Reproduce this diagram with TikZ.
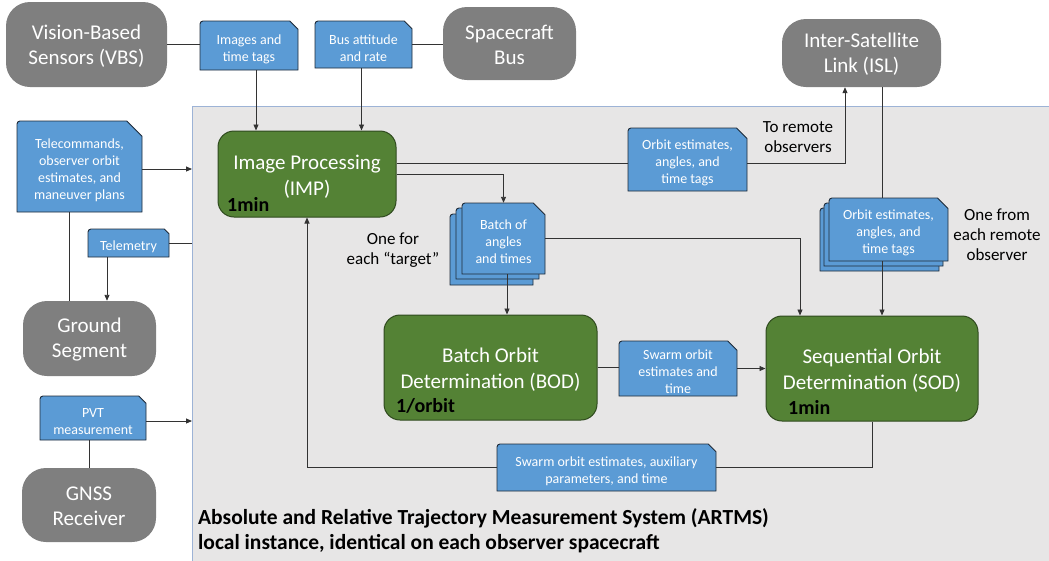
\documentclass[tikz,border=0pt]{standalone}
\usepackage{fontspec}
\setmainfont{Carlito}
\usetikzlibrary{arrows.meta,calc}
\definecolor{panelfill}{HTML}{E7E6E6}
\definecolor{panelline}{HTML}{9DB3D6}
\definecolor{nodegray}{HTML}{7F7F7F}
\definecolor{nodegreen}{HTML}{548235}
\definecolor{greenline}{HTML}{2F4A1E}
\definecolor{nodeblue}{HTML}{5B9BD5}
\definecolor{blueline}{HTML}{1E2A38}
\definecolor{wirecol}{HTML}{333333}
\tikzset{
 lbl/.style={inner sep=0pt, align=center, text=white},
 graybox/.style={rectangle, rounded corners=24pt, fill=nodegray, inner sep=0pt},
 greenbox/.style={rectangle, rounded corners=16pt, fill=nodegreen, draw=greenline, line width=1pt, inner sep=0pt},
 bluebox/.style={rectangle, inner sep=0pt},
 gtxt/.style={label={[lbl, yshift=-1.5pt, font=\fontsize{21}{25}\selectfont]center:{#1}}},
 ntxt/.style={label={[lbl, yshift=-2.5pt, font=\fontsize{21}{26}\selectfont]center:{#1}}},
 btxt/.style={label={[lbl, yshift=-3.5pt, font=\fontsize{14}{17}\selectfont]center:{#1}}},
 snipfill/.style={fill=nodeblue, draw=blueline, line width=0.9pt},
 rate/.style={anchor=west, inner sep=0pt, font=\bfseries\fontsize{20}{24}\selectfont},
 note/.style={align=center, inner sep=0pt, font=\fontsize{17}{20}\selectfont},
 wire/.style={draw=wirecol, line width=0.9pt},
 arr/.style={wire, -{Triangle[length=6pt,width=5pt]}},
}
\newcommand{\snipshape}[4]{%
  \pgfmathsetmacro{\snipc}{min(#3-#1,#4-#2)/6}%
  \filldraw[snipfill] (#1,{(#2+#4)/2}) -- (#1,#4) -- (#3,#4) -- (#3,{#2+\snipc}) -- ({#3-\snipc},#2) [rounded corners=3pt] -- (#1,#2) -- (#1,{(#2+#4)/2}) [sharp corners] -- cycle;}
\newcommand{\snipnode}[6]{%
  \snipshape{#2}{#3}{#4}{#5}%
  \node[bluebox, minimum width={#4-#2}, minimum height={#5-#3}, btxt={#6}] (#1) at ({(#2+#4)/2},{(#3+#5)/2}) {};}
\begin{document}
\begin{tikzpicture}[x=1pt,y=-1pt]
\useasboundingbox (0,0) rectangle (1049,560);
% panel
\node[fill=panelfill, minimum width=870, minimum height=470, anchor=north west, inner sep=0pt] (panel) at (192,106) {};
\draw[panelline, line width=1pt] (panel.south west) -- (panel.north west) -- (panel.north east);

% gray external nodes
\node[graybox, minimum width=161, minimum height=85, gtxt={Vision-Based\\Sensors (VBS)}] (vbs) at (86.5,44.5) {};
\node[graybox, minimum width=133, minimum height=73, gtxt={Spacecraft\\Bus}] (scbus) at (509.5,43.5) {};
\node[graybox, minimum width=159, minimum height=68, gtxt={Inter-Satellite\\Link (ISL)}] (isl) at (861.5,53) {};
\node[graybox, minimum width=133, minimum height=75, gtxt={Ground\\Segment}] (ground) at (89.5,338.5) {};
\node[graybox, minimum width=134, minimum height=74, gtxt={GNSS\\Receiver}] (gnss) at (89,505) {};

% green processing nodes
\node[greenbox, minimum width=178, minimum height=86, ntxt={Image Processing\\(IMP)}] (imp) at (307,174) {};
\node[greenbox, minimum width=213, minimum height=105, ntxt={Batch Orbit\\Determination (BOD)}] (bod) at (490.5,367.5) {};
\node[greenbox, minimum width=212, minimum height=105, ntxt={Sequential Orbit\\Determination (SOD)}] (sod) at (872,368.5) {};
\node[rate] (imprate) at (227,204) {1min};
\node[rate] (bodrate) at (396,406) {1/orbit};
\node[rate] (sodrate) at (788,407) {1min};

% blue data boxes
\snipnode{imgs}{200}{21}{298}{70}{Images and\\time tags}
\snipnode{busatt}{315}{21}{412}{68}{Bus attitude\\and rate}
\snipnode{tele}{17}{121}{142}{212}{Telecommands,\\observer orbit\\estimates, and\\maneuver plans}
\snipnode{telem}{88}{229}{169}{257}{Telemetry}
\snipnode{pvt}{40}{396}{146}{440}{PVT\\measurement}
\snipnode{orbout}{628}{128}{747}{191}{Orbit estimates,\\angles, and\\time tags}
\snipshape{820}{208}{939}{271}
\snipshape{824}{203}{943}{266}
\snipnode{orbin}{829}{198}{948}{261}{Orbit estimates,\\angles, and\\time tags}
\snipshape{450}{214}{533}{285}
\snipshape{456}{208}{539}{279}
\snipnode{batch}{462}{203}{545}{274}{Batch of\\angles\\and times}
\snipnode{swarmmid}{619}{341}{737}{396}{Swarm orbit\\estimates and\\time}
\snipnode{swarmbot}{497}{444}{716}{491}{Swarm orbit estimates, auxiliary\\parameters, and time}

% notes
\node[note] (onefor) at (393,250) {One for\\each “target”};
\node[note] (toremote) at (798,137.5) {To remote\\observers};
\node[note] (onefrom) at (997,235) {One from\\each remote\\observer};
\node[anchor=west, align=left, inner sep=0pt, font=\bfseries\fontsize{21.5}{25}\selectfont] (title) at (198,531) {Absolute and Relative Trajectory Measurement System (ARTMS)\\local instance, identical on each observer spacecraft};

% connectors
\draw[wire] (vbs.east) -- (vbs.east -| imgs.west);
\draw[arr] ([xshift=7pt]imgs.south) -- ([xshift=7pt]imgs.south |- imp.north);
\draw[arr] ([xshift=-2pt]busatt.south) -- ([xshift=-2pt]busatt.south |- imp.north);
\draw[wire] (busatt.east) -- (busatt.east -| scbus.west);
\draw[arr] ([yshift=-2.5pt]tele.east) -- ([yshift=-2.5pt]tele.east -| panel.west);
\draw[wire] ([xshift=-10.5pt]tele.south) -- ([xshift=-10.5pt]tele.south |- ground.north);
\draw[wire] (telem.east -| panel.west) -- (telem.east);
\draw[arr] ([xshift=-21.5pt]telem.south) -- ([xshift=-21.5pt]telem.south |- ground.north);
\draw[arr] ([yshift=-3pt]pvt.east) -- ([yshift=-3pt]pvt.east -| panel.west);
\draw[wire] ([xshift=-4pt]pvt.south) -- ([xshift=-4pt]pvt.south |- gnss.north);
\draw[wire] ([yshift=11pt]imp.east) -- ([yshift=11pt]imp.east -| orbout.west);
\draw[arr] (imp.east) -| (batch.north);
\draw[arr] ([yshift=-3.5pt]orbout.east) -| ([xshift=-16.5pt]isl.south);
\draw[wire] ([xshift=20.5pt]isl.south) -- ([xshift=20.5pt]isl.south |- orbin.north);
\draw[arr] ([xshift=-6.5pt]orbin.south) -- ([xshift=-6.5pt]orbin.south |- sod.north);
\draw[arr] (batch.east) -| ([xshift=-72pt]sod.north);
\draw[arr] ([xshift=3.5pt]batch.south) -- ([xshift=3.5pt]batch.south |- bod.north);
\draw[wire] (bod.east) -- (bod.east -| swarmmid.west);
\draw[arr] (swarmmid.east) -- (swarmmid.east -| sod.west);
\draw[wire] (sod.south) |- (swarmbot.east);
\draw[arr] (swarmbot.west) -| (imp.south);
\end{tikzpicture}
\end{document}
